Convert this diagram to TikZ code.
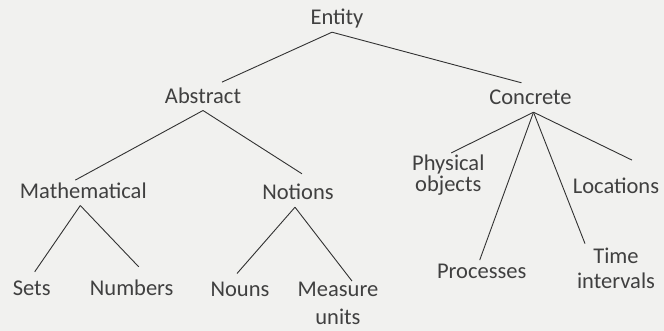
\documentclass[tikz,border=0pt]{standalone}
\usepackage{fontspec}
\setmainfont{Carlito}
\usepackage{xcolor}
\usepackage{tikz}
\definecolor{paper}{RGB}{241,241,239}
\definecolor{ink}{RGB}{64,64,64}
\definecolor{wire}{RGB}{50,50,50}
\tikzset{
    term/.style={font=\fontsize{22.5}{27}\selectfont, text=ink, inner sep=2pt, anchor=base, text height=16pt, text depth=5pt},
    twoline/.style={font=\fontsize{22.5}{27}\selectfont, text=ink, inner sep=2pt, anchor=base, align=center},
    link/.style={draw=wire, line width=0.9pt}
}

\begin{document}
\begin{tikzpicture}[x=1pt, y=-1pt]

        % --- Background ---
        \fill[paper] (0,0) rectangle (664,331);
        \useasboundingbox (0,0) rectangle (664,331);

        % --- Top levels ---
        \node (entity) [term] at (337,25) {Entity};
        \node (abstract) [term] at (203,103.3) {Abstract};
        \node (concrete) [term] at (530.5,105) {Concrete};

        % --- Abstract branch ---
        \node (math) [term] at (83.3,198.3) {Mathematical};
        \node (notions) [term] at (298,200) {Notions};
        \node (sets) [term] at (31.7,295) {Sets};
        \node (numbers) [term] at (131.7,295) {Numbers};
        \node (nouns) [term] at (240,296.7) {Nouns};
        \node (measure) [twoline, inner sep=1pt] at (338,324.5) {Measure\\[0.8pt]units};

        % --- Concrete branch ---
        \node (physical) [twoline] at (448.3,191.7) {Physical\\[-6pt]objects};
        \node (locations) [term] at (616,193.3) {Locations};
        \node (processes) [term] at (481.7,278.3) {Processes};
        \node (time) [twoline] at (616,288.3) {Time\\[-2pt]intervals};

        % Connections
        \draw [link] ([xshift=-5pt]entity.south) -- ([xshift=19pt,yshift=3pt]abstract.north);
        \draw [link] ([xshift=-5pt]entity.south) -- ([xshift=-9pt,yshift=4pt]concrete.north);

        \draw [link] (abstract.south) -- ([xshift=-8pt]math.north);
        \draw [link] (abstract.south) -- ([xshift=4pt,yshift=8pt]notions.north);

        \draw [link] ([xshift=-3pt]math.south) -- ([xshift=3pt,yshift=5pt]sets.north);
        \draw [link] ([xshift=-3pt]math.south) -- ([xshift=7pt,yshift=10pt]numbers.north);
        \draw [link] ([xshift=-3pt]notions.south) -- ([xshift=-3pt,yshift=5pt]nouns.north);
        \draw [link] ([xshift=-3pt]notions.south) -- ([xshift=14pt]measure.north);

        \draw [link] ([xshift=3pt]concrete.south) -- ([xshift=3pt]physical.north);
        \draw [link] ([xshift=3pt]concrete.south) -- ([xshift=-2pt]processes.north);
        \draw [link] ([xshift=3pt]concrete.south) -- ([xshift=-31pt,yshift=2pt]time.north);
        \draw [link] ([xshift=3pt]concrete.south) -- ([xshift=16pt,yshift=15pt]locations.north);

\end{tikzpicture}
\end{document}
